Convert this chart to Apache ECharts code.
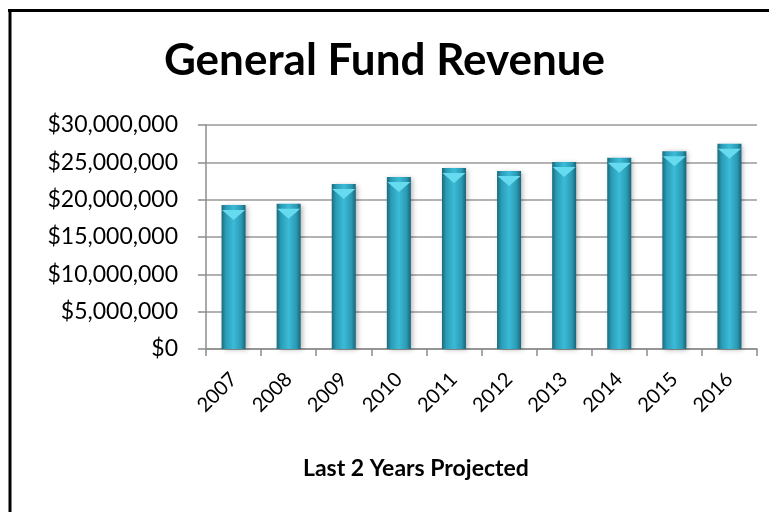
<!DOCTYPE html>
<html>
<head>
<meta charset="utf-8">
<style>
  html, body { margin: 0; padding: 0; background: #fff; }
  #chart { width: 769px; height: 512px; }
</style>
<script src="https://cdn.jsdelivr.net/npm/echarts@6/dist/echarts.min.js"></script>
</head>
<body>
<div id="chart"></div>
<script>
// Fiscal years and general fund revenue (dollars); last two years are projections
const years = ['2007', '2008', '2009', '2010', '2011', '2012', '2013', '2014', '2015', '2016'];
const revenue = [19300000, 19450000, 22100000, 23050000, 24250000, 23850000, 25050000, 25600000, 26500000, 27500000];
const yTicks = { min: 0, max: 30000000, interval: 5000000 };

const FONT = 'Lato, "Open Sans", sans-serif';

function money(v) {
  return '$' + Math.round(v).toString().replace(/\B(?=(\d{3})+(?!\d))/g, ',');
}

const chart = echarts.init(document.getElementById('chart'));

const bodyGradient = new echarts.graphic.LinearGradient(0, 0, 1, 0, [
  { offset: 0, color: '#1a6a7c' },
  { offset: 0.18, color: '#2a9cb6' },
  { offset: 0.5, color: '#3bbbd7' },
  { offset: 0.82, color: '#2a9ab4' },
  { offset: 1, color: '#186476' }
]);

chart.setOption({
  animation: false,
  backgroundColor: '#ffffff',
  title: [
    {
      text: 'General Fund Revenue',
      left: 'center',
      top: 34,
      textStyle: { fontFamily: FONT, fontWeight: 'bold', fontSize: 44, color: '#000' }
    },
    {
      text: 'Last 2 Years Projected',
      left: 298,
      top: 452,
      textStyle: { fontFamily: FONT, fontWeight: 'bold', fontSize: 23, color: '#000' }
    }
  ],
  graphic: [
    // frame: top and left edges of the chart border
    {
      type: 'line',
      shape: { x1: 8, y1: 10.5, x2: 769, y2: 10.5 },
      style: { stroke: '#000', lineWidth: 3 },
      silent: true
    },
    {
      type: 'line',
      shape: { x1: 10, y1: 9, x2: 10, y2: 512 },
      style: { stroke: '#000', lineWidth: 3 },
      silent: true
    }
  ],
  grid: { left: 206, right: 12, top: 125, bottom: 163, containLabel: false },
  xAxis: {
    type: 'category',
    data: years,
    axisLine: { lineStyle: { color: '#8c8c8c', width: 1.5 } },
    axisTick: { show: true, length: 7, lineStyle: { color: '#8c8c8c', width: 1.5 } },
    axisLabel: {
      rotate: 45,
      margin: 27,
      fontFamily: FONT,
      fontSize: 20,
      color: '#000'
    }
  },
  yAxis: {
    type: 'value',
    min: yTicks.min,
    max: yTicks.max,
    interval: yTicks.interval,
    axisLine: { show: true, lineStyle: { color: '#8c8c8c', width: 1.5 } },
    axisTick: { show: true, inside: false, length: 8, lineStyle: { color: '#8c8c8c', width: 1.5 } },
    splitLine: { lineStyle: { color: '#9a9a9a', width: 1.5 } },
    axisLabel: {
      margin: 28,
      fontFamily: FONT,
      fontSize: 23,
      color: '#000',
      formatter: money
    }
  },
  series: [
    {
      type: 'bar',
      data: revenue,
      barWidth: 24,
      itemStyle: {
        color: bodyGradient,
        shadowColor: 'rgba(0,0,0,0.3)',
        shadowBlur: 5,
        shadowOffsetX: 2,
        shadowOffsetY: 1
      },
      z: 2
    },
    {
      // bevelled highlight on the top face of each bar
      type: 'pictorialBar',
      data: revenue,
      symbol: 'path://M0,0 L20,0 L10,9 Z',
      symbolSize: [23, 10],
      symbolPosition: 'end',
      symbolOffset: [0, 5],
      itemStyle: { color: '#66dbef' },
      silent: true,
      z: 3
    }
  ]
});
</script>
</body>
</html>
